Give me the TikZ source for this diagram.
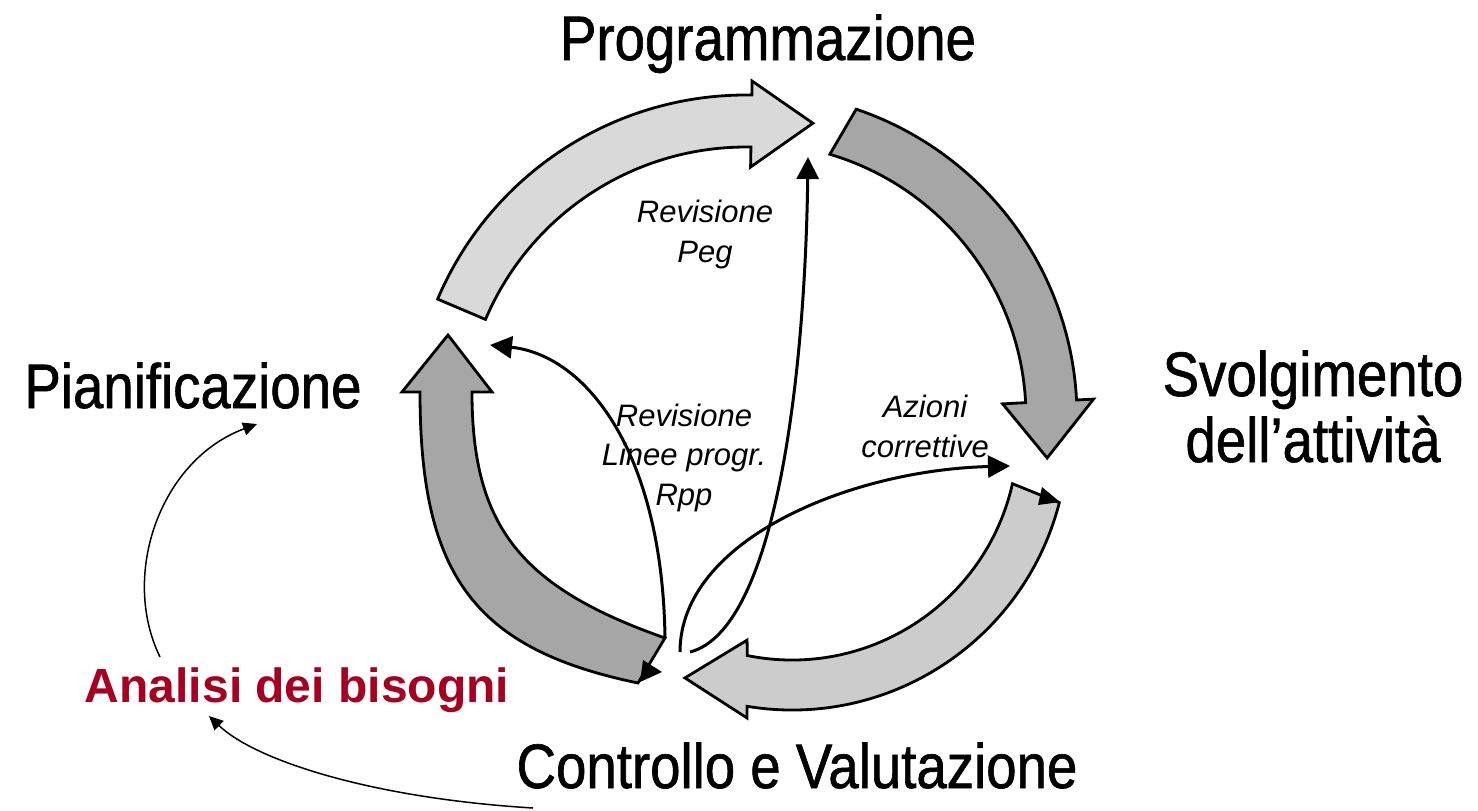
\documentclass[tikz,border=0pt]{standalone}
\usepackage{fontspec}
\setmainfont{Liberation Sans}
\newfontfamily\narrowfont[FakeStretch=0.87,FakeBold=1]{Liberation Sans}
\usetikzlibrary{arrows.meta,calc}
\definecolor{lightarrow}{HTML}{D9D9D9}
\definecolor{midarrow}{HTML}{CCCCCC}
\definecolor{darkarrow}{HTML}{A6A6A6}
\definecolor{analisired}{HTML}{A50021}
\begin{document}
\begin{tikzpicture}[x=0.5pt,y=0.5pt,
  blockarrow/.style={draw=black, line width=1.4pt, line join=miter},
  title/.style={font=\narrowfont\fontsize{31.4}{33}\selectfont, inner sep=0pt, align=center, anchor=base},
  lbl/.style={font=\itshape\fontsize{15.5}{19.75}\selectfont, inner sep=0pt, align=center, anchor=base},
  thickconn/.style={line width=1.5pt, -{Triangle[length=11pt,width=11pt]}},
  thinconn/.style={line width=0.75pt, -{Triangle[length=7pt,width=6.5pt]}},
  tailmark/.style={fill=black}
]
\useasboundingbox (0,0) rectangle (1478,-810);

% centres of the circular arrows
\coordinate (CT) at (746,-430);
\coordinate (CR) at (752,-417);
\coordinate (CB) at (792,-434);

% top arrow (Pianificazione -> Programmazione)
\draw[blockarrow, fill=lightarrow] ($(CT)+(157:335)$) arc[start angle=157, end angle=89, radius=335]
  -- ($(CT)+(89:349)$) -- ($(CT)+(77.7:314)$) -- ($(CT)+(89:263)$) -- ($(CT)+(89:283)$)
  arc[start angle=89, end angle=157, radius=283] -- cycle;

% right arrow (Programmazione -> Svolgimento)
\draw[blockarrow, fill=darkarrow] ($(CR)+(71.3:325)$) arc[start angle=71.3, end angle=3, radius=325]
  -- ($(CR)+(3:342)$) -- ($(CR)+(-7.9:298)$) -- ($(CR)+(3:251)$) -- ($(CR)+(3:274)$)
  arc[start angle=3, end angle=73.5, radius=274] -- cycle;

% bottom arrow (Svolgimento -> Controllo)
\draw[blockarrow, fill=midarrow] ($(CB)+(-14.4:276)$) arc[start angle=-14.4, end angle=-99.4, radius=276]
  -- ($(CB)+(-99:287.5)$) -- ($(CB)+(-113.7:266.4)$) -- ($(CB)+(-102.3:211)$) -- ($(CB)+(-101.4:226)$)
  arc[start angle=-101.4, end angle=-12.7, radius=226] -- cycle;

% left arrow (Controllo -> Pianificazione)
\draw[blockarrow, fill=darkarrow] (638,-683) .. controls (474.5,-649) and (420,-575.75) .. (420,-392)
  -- (402,-392) -- (448,-335) -- (492,-392) -- (472,-392)
  .. controls (472,-526) and (520,-587) .. (665,-638) -- cycle;

% small marks at the tails
\fill[tailmark] (1042,-487) -- (1060,-502) -- (1038,-505) -- cycle;
\fill[tailmark] (643,-660) -- (662,-672) -- (640,-682) -- cycle;

% texts (base anchor = baseline of the last line)
\node[title] (prog) at (768,-60) {Programmazione};
\node[title] (pian) at (193,-408) {Pianificazione};
\node[title] (svol) at (1313,-462) {Svolgimento\\dell’attività};
\node[title] (contr) at (797,-788) {Controllo e Valutazione};
\node[font=\bfseries\fontsize{24}{28}\selectfont, text=analisired, inner sep=0pt, anchor=base] (analisi) at (297,-702) {Analisi dei bisogni};
\node[lbl] (revpeg) at (705,-262) {Revisione\\Peg};
\node[lbl] (revrpp) at (684,-505) {Revisione\\Linee progr.\\Rpp};
\node[lbl] (azioni) at (925,-457) {Azioni\\correttive};

% connector end points
\coordinate (pegS) at (690,-652);
\coordinate (pegE) at (808,-157);
\coordinate (azS) at (680,-652);
\coordinate (azE) at (1010,-466);
\coordinate (rppS) at (665,-637);
\coordinate (rppE) at (490,-345);
\coordinate (anS) at (160,-657);
\coordinate (anE) at (257,-424);
\coordinate (coS) at (533,-808);
\coordinate (coE) at (209,-716);

\draw[thickconn] (pegS) .. controls (775,-630) and (805,-380) .. (pegE);
\draw[thickconn] (azS) .. controls (680,-540) and (850,-470) .. (azE);
\draw[thickconn] (rppS) .. controls (662,-450) and (585,-355) .. (rppE);
\draw[thinconn] (anS) .. controls (120,-575) and (160,-460) .. (anE);
\draw[thinconn] (coS) .. controls (370,-798) and (255,-760) .. (coE);
\end{tikzpicture}
\end{document}
